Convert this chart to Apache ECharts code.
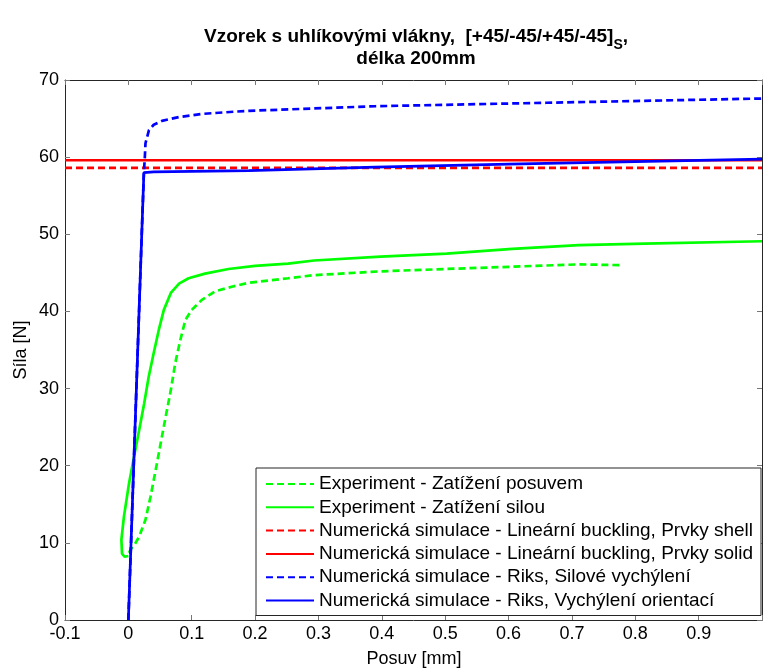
<!DOCTYPE html>
<html><head><meta charset="utf-8">
<script src="https://cdn.jsdelivr.net/npm/echarts@6/dist/echarts.min.js"></script>
<style>html,body{margin:0;padding:0;background:#fff}#c{width:765px;height:670px}</style>
</head><body><div id="c"></div>
<script>
// ---- data (x = Posuv [mm], y = Síla [N]) ----
const names = [
  'Experiment - Zatížení posuvem',
  'Experiment - Zatížení silou',
  'Numerická simulace - Lineární buckling, Prvky shell',
  'Numerická simulace - Lineární buckling, Prvky solid',
  'Numerická simulace - Riks, Silové vychýlení',
  'Numerická simulace - Riks, Vychýlení orientací'
];
const expPosuvem = [[0.001,8.7],[0.004,9.2],[0.010,9.8],[0.017,10.8],[0.027,13.0],[0.035,16.0],[0.043,19.4],[0.051,22.9],[0.059,26.4],[0.067,29.8],[0.074,33.3],[0.082,36.3],[0.090,38.9],[0.100,40.2],[0.116,41.5],[0.137,42.6],[0.163,43.2],[0.189,43.7],[0.252,44.3],[0.293,44.7],[0.398,45.2],[0.502,45.5],[0.606,45.8],[0.711,46.1],[0.776,46.0]];
const expSilou = [[0.000,8.3],[-0.006,8.2],[-0.010,8.6],[-0.011,10.4],[-0.007,13.4],[0.001,17.7],[0.009,21.2],[0.017,24.6],[0.025,28.1],[0.032,31.5],[0.040,34.6],[0.048,37.6],[0.056,40.2],[0.067,42.4],[0.080,43.6],[0.095,44.3],[0.121,44.9],[0.158,45.5],[0.200,45.9],[0.252,46.2],[0.293,46.6],[0.398,47.1],[0.502,47.5],[0.606,48.1],[0.711,48.6],[0.815,48.8],[1.000,49.1]];
const bucklingShell = [[-0.1,58.6],[1.0,58.6]];
const bucklingSolid = [[-0.1,59.6],[1.0,59.6]];
const riksSilove = [[0,0],[0.0245,58.0],[0.026,60.0],[0.027,61.8],[0.0325,63.5],[0.040,64.2],[0.053,64.7],[0.080,65.2],[0.116,65.6],[0.168,65.9],[0.190,66.0],[0.390,66.6],[0.600,66.95],[0.660,67.05],[1.0,67.6]];
const riksOrientaci = [[0,0],[0.0245,58.0],[0.040,58.1],[0.190,58.25],[0.390,58.7],[0.600,59.1],[0.660,59.2],[1.0,59.75]];
const xMin = -0.1, xMax = 1.0, xStep = 0.1;
const yMin = 0, yMax = 70, yStep = 10;

const FONT = '"Liberation Sans", Arial, Helvetica, sans-serif';
const GREEN = '#00ff00', RED = '#ff0000', BLUE = '#0000ff';
const DASH = [7, 4];

function mk(name, data, color, dashed) {
  return {
    name: name, type: 'line', data: data, symbol: 'none', showSymbol: false,
    lineStyle: { color: color, width: 2.7, type: dashed ? DASH : 'solid' },
    itemStyle: { color: color },
    animation: false, clip: true
  };
}

const chart = echarts.init(document.getElementById('c'), null, { renderer: 'canvas' });
const axisLine = { onZero: false, lineStyle: { color: '#262626', width: 1 } };
const tick = { inside: true, length: 5, lineStyle: { color: '#777' } };
chart.setOption({
  animation: false,
  backgroundColor: '#fff',
  textStyle: { fontFamily: FONT },
  grid: { left: 65, top: 80, width: 703, height: 540, containLabel: false },
  xAxis: [{
    type: 'value', min: xMin, max: xMax, interval: xStep, position: 'bottom',
    axisLine: axisLine, axisTick: tick, splitLine: { show: false },
    axisLabel: { color: '#000', fontSize: 18, fontFamily: FONT, margin: 5,
      formatter: v => (Math.abs(v - 1) < 1e-9 ? '' : String(Math.round(v * 10) / 10)) }
  }, {
    type: 'value', min: xMin, max: xMax, interval: xStep, position: 'top',
    axisLine: axisLine, axisTick: tick, splitLine: { show: false }, axisLabel: { show: false }
  }],
  yAxis: [{
    type: 'value', min: yMin, max: yMax, interval: yStep, position: 'left',
    axisLine: axisLine, axisTick: tick, splitLine: { show: false },
    axisLabel: { color: '#000', fontSize: 18, fontFamily: FONT, margin: 6 }
  }, {
    type: 'value', min: yMin, max: yMax, interval: yStep, position: 'right',
    axisLine: axisLine, axisTick: tick, splitLine: { show: false }, axisLabel: { show: false }
  }],
  legend: {
    orient: 'vertical', left: 256, top: 468, padding: [6, 8, 5, 9],
    backgroundColor: '#fff', borderColor: '#262626', borderWidth: 1,
    itemWidth: 48, itemHeight: 14, itemGap: 3.3,
    itemStyle: { opacity: 0 },
    textStyle: { color: '#000', fontSize: 19, fontFamily: FONT, lineHeight: 20, padding: [0,0,0,0] },
    data: names
  },
  graphic: [
    { type: 'text', x: 416, y: 37, z: 10, style: {
      text: '{a|Vzorek s uhlíkovými vlákny,  [+45/-45/+45/-45]}{s|S}{a|,}',
      align: 'center', verticalAlign: 'middle', fill: '#000',
      rich: {
        a: { fontSize: 19, fontWeight: 'bold', fontFamily: FONT, lineHeight: 20, verticalAlign: 'middle', fill: '#000' },
        s: { fontSize: 14, fontWeight: 'bold', fontFamily: FONT, lineHeight: 30, verticalAlign: 'bottom', fill: '#000' }
      } } },
    { type: 'text', x: 416, y: 59, z: 10, style: {
      text: 'délka 200mm', align: 'center', verticalAlign: 'middle', fill: '#000',
      font: 'bold 19px ' + FONT } },
    { type: 'text', x: 414, y: 659, z: 10, style: {
      text: 'Posuv [mm]', align: 'center', verticalAlign: 'middle', fill: '#000',
      font: '18px ' + FONT } },
    { type: 'text', x: 21, y: 350, rotation: Math.PI / 2, z: 10, style: {
      text: 'Síla [N]', align: 'center', verticalAlign: 'middle', fill: '#000',
      font: '18px ' + FONT } }
  ],
  series: [
    mk(names[0], expPosuvem, GREEN, true),
    mk(names[1], expSilou, GREEN, false),
    mk(names[2], bucklingShell, RED, true),
    mk(names[3], bucklingSolid, RED, false),
    mk(names[4], riksSilove, BLUE, true),
    mk(names[5], riksOrientaci, BLUE, false)
  ]
});
</script></body></html>
